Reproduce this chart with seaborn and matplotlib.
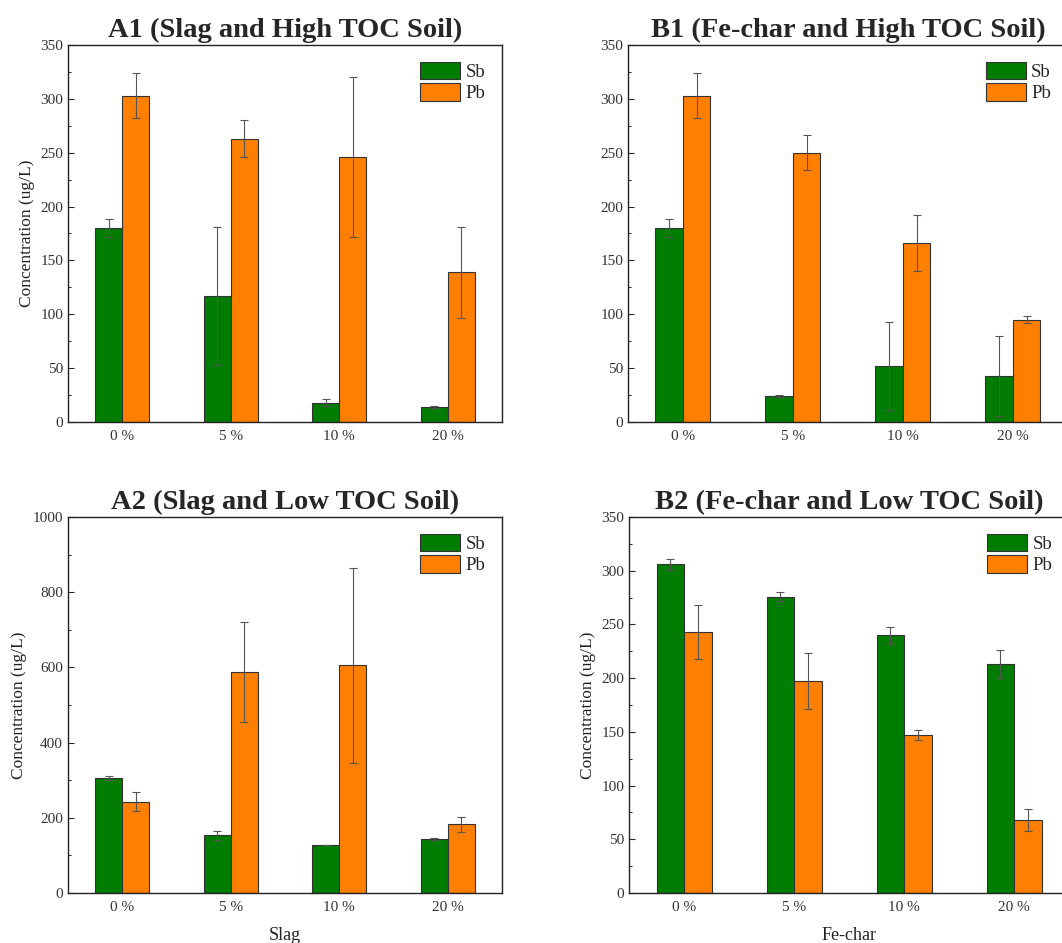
import matplotlib
matplotlib.use("Agg")
import matplotlib.pyplot as plt
import pandas as pd
import seaborn as sns
from matplotlib.ticker import FixedLocator, MultipleLocator

doses = ["0 %", "5 %", "10 %", "20 %"]
metals = ["Sb", "Pb"]

a1_sb = [180, 117, 18, 14]
a1_sb_err = [8, 64, 3, 1]
a1_pb = [303, 263, 246, 139]
a1_pb_err = [21, 17, 74, 42]

b1_sb = [180, 24, 52, 43]
b1_sb_err = [8, 1, 41, 37]
b1_pb = [303, 250, 166, 95]
b1_pb_err = [21, 16, 26, 3]

a2_sb = [306, 153, 128, 143]
a2_sb_err = [5, 13, 0, 3]
a2_pb = [243, 589, 606, 183]
a2_pb_err = [26, 133, 259, 20]

b2_sb = [306, 276, 240, 213]
b2_sb_err = [5, 4, 8, 13]
b2_pb = [243, 197, 147, 68]
b2_pb_err = [25, 26, 5, 10]

sns.set_theme(style="white")
plt.rcParams["font.family"] = ["Liberation Serif", "DejaVu Serif"]

COLORS = {"Sb": "#007d00", "Pb": "#ff7f00"}


def _frame(sb, sb_err, pb, pb_err):
    return pd.DataFrame(
        {
            "dose": doses * 2,
            "metal": ["Sb"] * 4 + ["Pb"] * 4,
            "conc": sb + pb,
            "err": sb_err + pb_err,
        }
    )


def draw_panel(ax, df, title, ymax, ystep, ylabel=True, xlabel=None):
    sns.barplot(
        data=df, x="dose", y="conc", hue="metal", hue_order=metals,
        palette=COLORS, width=0.5, errorbar=None, edgecolor="#333333",
        linewidth=0.8, saturation=1, ax=ax,
    )
    for cont, metal in zip(ax.containers, metals):
        errs = df[df["metal"] == metal]["err"].to_numpy()
        xs = [b.get_x() + b.get_width() / 2 for b in cont]
        ys = [b.get_height() for b in cont]
        ax.errorbar(xs, ys, yerr=errs, fmt="none", ecolor="#555555",
                    elinewidth=0.8, capsize=3, capthick=0.8, zorder=5)
    ax.set_xlim(-0.5, 3.5)
    ax.set_ylim(0, ymax)
    ax.yaxis.set_major_locator(MultipleLocator(ystep))
    ax.yaxis.set_minor_locator(MultipleLocator(ystep / 2))
    ax.xaxis.set_major_locator(FixedLocator([0.5, 1.5, 2.5]))
    ax.xaxis.set_minor_locator(FixedLocator([0, 1, 2, 3]))
    ax.set_xticklabels([], minor=False)
    ax.set_xticklabels(doses, minor=True)
    ax.tick_params(axis="x", which="major", direction="in", length=4, width=0.8, color="#333333")
    ax.tick_params(axis="x", which="minor", length=0, pad=6, labelsize=11, labelcolor="#333333")
    ax.tick_params(axis="y", which="major", direction="in", length=4, width=0.8,
                   labelsize=11, labelcolor="#333333", left=True)
    ax.tick_params(axis="y", which="minor", direction="in", length=2.5, width=0.7, left=True)
    for sp in ax.spines.values():
        sp.set_color("#222222")
        sp.set_linewidth(1.0)
    ax.set_title(title, fontsize=20.5, fontweight="bold", pad=6)
    ax.set_ylabel("Concentration (ug/L)" if ylabel else "", fontsize=12.5, color="#222222")
    ax.set_xlabel(xlabel or "", fontsize=13, color="#222222", labelpad=9)
    handles, labels = ax.get_legend_handles_labels()
    ax.legend(handles, labels, loc="upper right", frameon=False, fontsize=13.5,
              handlelength=2.1, handleheight=1.05, labelspacing=0.12,
              handletextpad=0.3, borderaxespad=0.5)


fig = plt.figure(figsize=(10.62, 9.43), dpi=100)
ax_a1 = fig.add_axes([0.064, 0.5525, 0.4087, 0.3998])
ax_b1 = fig.add_axes([0.5913, 0.5525, 0.4143, 0.3998])
ax_a2 = fig.add_axes([0.064, 0.053, 0.4087, 0.3987])
ax_b2 = fig.add_axes([0.5923, 0.053, 0.4143, 0.3987])

draw_panel(ax_a1, _frame(a1_sb, a1_sb_err, a1_pb, a1_pb_err),
           "A1 (Slag and High TOC Soil)", 350, 50)
draw_panel(ax_b1, _frame(b1_sb, b1_sb_err, b1_pb, b1_pb_err),
           "B1 (Fe-char and High TOC Soil)", 350, 50, ylabel=False)
draw_panel(ax_a2, _frame(a2_sb, a2_sb_err, a2_pb, a2_pb_err),
           "A2 (Slag and Low TOC Soil)", 1000, 200, xlabel="Slag")
draw_panel(ax_b2, _frame(b2_sb, b2_sb_err, b2_pb, b2_pb_err),
           "B2 (Fe-char and Low TOC Soil)", 350, 50, xlabel="Fe-char")

fig.savefig("out.png", dpi=100)
